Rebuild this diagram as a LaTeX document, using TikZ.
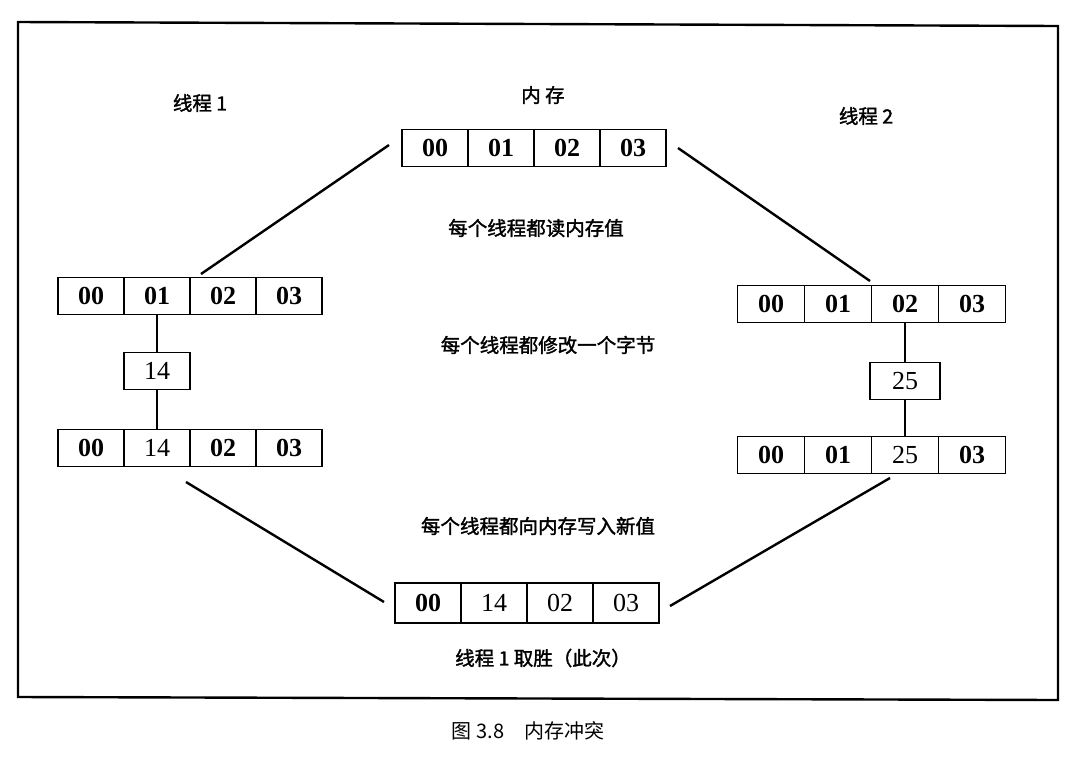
\documentclass[tikz,border=0pt]{standalone}
\usepackage{fontspec}
\setmainfont{Liberation Serif}
\newfontfamily\cjk{Noto Sans CJK SC}
\newfontfamily\cjkb{Noto Sans CJK SC}[FakeBold=1.6]
\usetikzlibrary{positioning}
\begin{document}
\begin{tikzpicture}[x=1pt,y=-1pt,
  cell/.style={draw,line width=1.8pt,outer sep=0pt,minimum width=66pt,minimum height=37pt,inner sep=0pt,font=\fontsize{26}{26}\selectfont\bfseries},
  lcell/.style={cell,font=\fontsize{26}{26}\selectfont},
  lbl/.style={font=\fontsize{19.5}{19.5}\selectfont\cjkb,inner sep=0pt},
  link/.style={line width=2.4pt}]
\useasboundingbox (0,0) rectangle (1077,772);
\draw[line width=2.4pt] (18,22) -- (1058,26) -- (1058,700) -- (18,697) -- cycle;
% top memory row
\node[cell] (t0) at (435,148) {00};
\node[cell,right=0pt of t0] (t1) {01};
\node[cell,right=0pt of t1] (t2) {02};
\node[cell,right=0pt of t2] (t3) {03};
% left thread
\node[cell] (a0) at (91,296) {00};
\node[cell,right=0pt of a0] (a1) {01};
\node[cell,right=0pt of a1] (a2) {02};
\node[cell,right=0pt of a2] (a3) {03};
\node[lcell] (a) at (a1.center |- 0,371) {14};
\node[cell] (b0) at (91,448) {00};
\node[lcell,right=0pt of b0] (b1) {14};
\node[cell,right=0pt of b1] (b2) {02};
\node[cell,right=0pt of b2] (b3) {03};
% right thread
\node[cell,minimum width=67pt] (c0) at (771,304) {00};
\node[cell,minimum width=67pt,right=0pt of c0] (c1) {01};
\node[cell,minimum width=67pt,right=0pt of c1] (c2) {02};
\node[cell,minimum width=67pt,right=0pt of c2] (c3) {03};
\node[lcell,minimum width=70pt] (c) at (c2.center |- 0,381) {25};
\node[cell,minimum width=67pt] (d0) at (771,455) {00};
\node[cell,minimum width=67pt,right=0pt of d0] (d1) {01};
\node[lcell,minimum width=67pt,right=0pt of d1] (d2) {25};
\node[cell,minimum width=67pt,right=0pt of d2] (d3) {03};
% bottom memory row
\node[cell,minimum height=40pt] (e0) at (428,603) {00};
\node[lcell,minimum height=40pt,right=0pt of e0] (e1) {14};
\node[lcell,minimum height=40pt,right=0pt of e1] (e2) {02};
\node[lcell,minimum height=40pt,right=0pt of e2] (e3) {03};
% vertical links
\draw[link] (a1.south) -- (a.north);
\draw[link] (a.south) -- (b1.north);
\draw[link] (c2.south) -- (c.north);
\draw[link] (c.south) -- (d2.north);
% diagonal links
\coordinate (p1) at (389,145);
\coordinate (p2) at (201,274);
\coordinate (p3) at (678,148);
\coordinate (p4) at (870,281);
\coordinate (p5) at (186,482);
\coordinate (p6) at (384,602);
\coordinate (p7) at (890,478);
\coordinate (p8) at (670,606);
\draw[link] (p1) -- (p2);
\draw[link] (p3) -- (p4);
\draw[link] (p5) -- (p6);
\draw[link] (p7) -- (p8);
% labels
\node[lbl] (mem) at (543,95) {内\ 存};
\node[lbl] (th1) at (200,103) {线程 1};
\node[lbl] (th2) at (866,116) {线程 2};
\node[lbl] (s1) at (536,228) {每个线程都读内存值};
\node[lbl] (s2) at (548,345) {每个线程都修改一个字节};
\node[lbl] (s3) at (538,526) {每个线程都向内存写入新值};
\node[lbl] (win) at (543,658) {线程 1 取胜（此次）};
\node[font=\fontsize{20}{20}\selectfont\cjk,inner sep=0pt] (cap) at (528,731) {图 3.8\quad 内存冲突};
\end{tikzpicture}
\end{document}
